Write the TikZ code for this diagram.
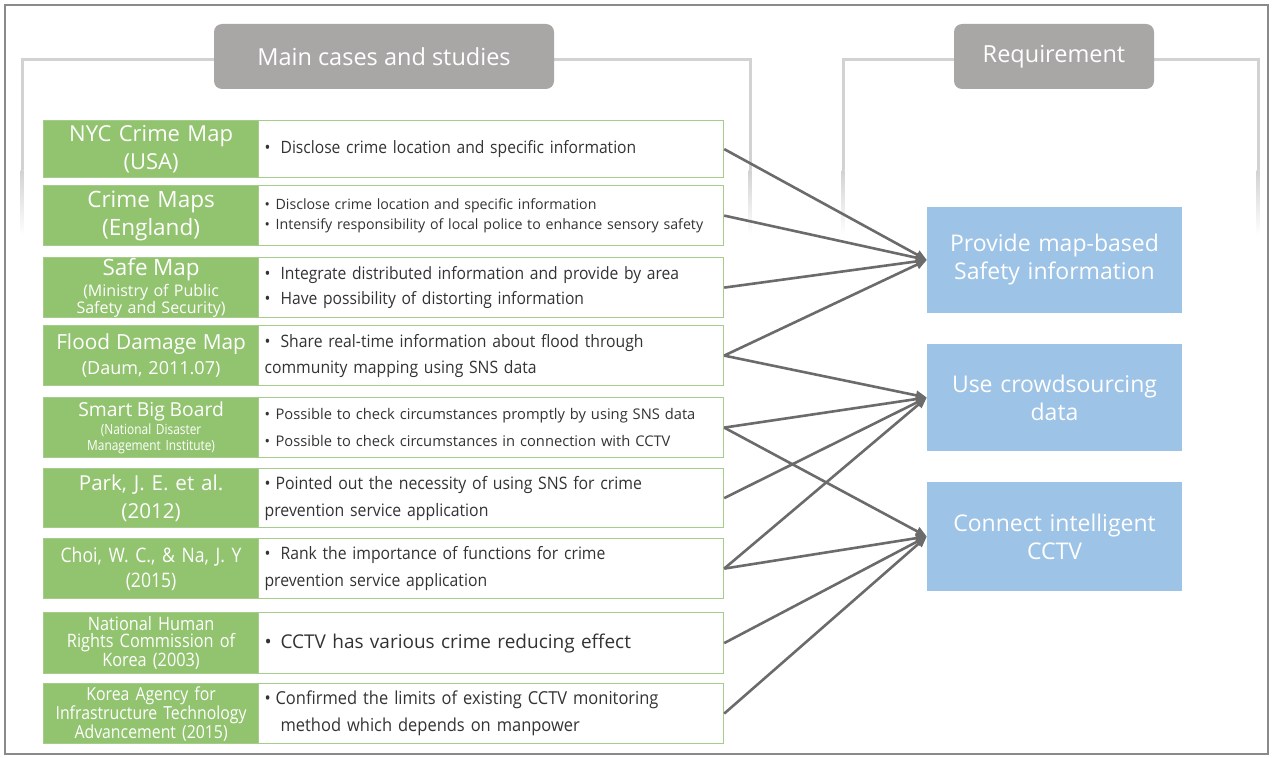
\documentclass[tikz,border=0pt]{standalone}
\usepackage{fontspec}
\setmainfont{Open Sans}
\newfontfamily\nar[FakeStretch=0.92]{Open Sans}
\newfontfamily\lbn[FakeStretch=0.88]{Open Sans}
\newfontfamily\cnd[FakeStretch=0.85]{Open Sans}
\usetikzlibrary{arrows.meta}
\definecolor{hdr}{HTML}{A9A6A6}
\definecolor{grn}{HTML}{92C36F}
\definecolor{grnb}{HTML}{A4CC8A}
\definecolor{blu}{HTML}{9DC3E6}
\definecolor{frm}{HTML}{D2D2D2}
\definecolor{conncol}{HTML}{6B6B6B}
\definecolor{txtcol}{HTML}{333333}
\definecolor{bordercol}{HTML}{8A8A8A}
\newcommand\bul{\makebox[16pt][l]{•}}
\newcommand\bulS{\makebox[11pt][l]{•}}
\newcommand\fs[2]{\fontsize{#1}{#2}\selectfont}
\begin{document}
\begin{tikzpicture}[x=1pt,y=-1pt,
  lab/.style={fill=grn, draw=grnb, line width=1.2pt, text width=209pt, inner xsep=3pt, inner ysep=0pt,
    align=center, text=white, anchor=north west},
  txt/.style={fill=white, draw=grnb, line width=1.2pt, text width=453pt, inner xsep=6pt, inner ysep=0pt,
    align=left, text=txtcol, anchor=north west},
  req/.style={fill=blu, text=white, text width=245pt, inner xsep=5pt, align=center, minimum height=107pt,
    font=\fs{23}{28}},
  hd/.style={fill=hdr, text=white, rounded corners=8pt, minimum height=65pt, font=\fs{23.5}{26}},
  frame/.style={draw=frm, line width=3pt},
  conn/.style={draw=conncol, line width=2.6pt, -{Triangle[length=11pt,width=9pt]}}
]
\useasboundingbox (0,0) rectangle (1273,757);
\draw[bordercol, line width=1.2pt] (5,5) rectangle (1268,754);

% section frames
\draw[frame] (22,170) -- (22,60) -- (750,60) -- (750,170);
\shade[top color=frm, bottom color=white] (20.5,170) rectangle (23.5,235);
\shade[top color=frm, bottom color=white] (748.5,170) rectangle (751.5,235);
\draw[frame] (843,170) -- (843,60) -- (1258,60) -- (1258,170);
\shade[top color=frm, bottom color=white] (841.5,170) rectangle (844.5,235);
\shade[top color=frm, bottom color=white] (1256.5,170) rectangle (1259.5,235);

\node[hd, minimum width=340pt] (h1) at (384,56.5) {Main cases and studies};
\node[hd, minimum width=200pt] (h2) at (1054,56.5) {Requirement};

% rows
\node[lab, minimum height=57pt, font=\fs{22}{28}] (l1) at (43,120) {NYC Crime Map\\(USA)};
\node[txt, minimum height=57pt, font=\nar\fs{17}{26}] (t1) at (258,120) {\bul Disclose crime location and specific information};

\node[lab, minimum height=60pt, font=\fs{22.5}{28}] (l2) at (43,185) {Crime Maps\\(England)};
\node[txt, minimum height=60pt, font=\fs{14.2}{20}] (t2) at (258,185) {\bulS Disclose crime location and specific information\\\bulS Intensify responsibility of local police to enhance sensory safety};

\node[lab, minimum height=60pt, font=\fs{16}{16.5}] (l3) at (43,257) {\fs{22.5}{16.5}Safe Map\\[3pt]\fs{16}{16.5}(Ministry of Public\\Safety and Security)};
\node[txt, minimum height=60pt, font=\nar\fs{17}{25}] (t3) at (258,257) {\bul Integrate distributed information and provide by area\\\bul Have possibility of distorting information};

\node[lab, minimum height=60pt, font=\fs{18}{25}] (l4) at (43,325) {\fs{20.8}{25}Flood Damage Map\\\fs{18}{25}(Daum, 2011.07)};
\node[txt, minimum height=60pt, font=\nar\fs{17.1}{26}] (t4) at (258,325) {\bul Share real-time information about flood through\\community mapping using SNS data};

\node[lab, minimum height=60pt, font=\cnd\fs{14}{15.5}] (l5) at (43,397) {\rmfamily\fs{19.3}{15.5}Smart Big Board\\[3pt]\cnd\fs{14}{15.5}(National Disaster\\Management Institute)};
\node[txt, minimum height=60pt, font=\fs{14.7}{27}] (t5) at (258,397) {\bulS Possible to check circumstances promptly by using SNS data\\\bulS Possible to check circumstances in connection with CCTV};

\node[lab, minimum height=59pt, font=\fs{20.6}{28}] (l6) at (43,468) {Park, J. E. et al.\\(2012)};
\node[txt, minimum height=59pt, font=\nar\fs{17.2}{27}] (t6) at (258,468) {\bulS Pointed out the necessity of using SNS for crime\\prevention service application};

\node[lab, minimum height=60pt, font=\lbn\fs{20}{25}] (l7) at (43,538) {Choi, W. C., \& Na, J. Y\\(2015)};
\node[txt, minimum height=60pt, font=\nar\fs{17.1}{27}] (t7) at (258,538) {\bul Rank the importance of functions for crime\\prevention service application};

\node[lab, minimum height=61pt, font=\lbn\fs{18.5}{17.5}] (l8) at (43,612) {National Human\\Rights Commission of\\Korea (2003)};
\node[txt, minimum height=61pt, font=\fs{19}{26}] (t8) at (258,612) {\bul CCTV has various crime reducing effect};

\node[lab, minimum height=60pt, font=\lbn\fs{18}{16.5}] (l9) at (43,683) {Korea Agency for\\Infrastructure Technology\\Advancement (2015)};
\node[txt, minimum height=60pt, font=\nar\fs{17.9}{27}] (t9) at (258,683) {\bulS Confirmed the limits of existing CCTV monitoring\\\hspace*{16pt}method which depends on manpower};

% requirements
\node[req, minimum height=106pt] (r1) at (1054.5,260) {Provide map-based\\Safety information};
\node[req, minimum height=107pt] (r2) at (1054.5,397.5) {Use crowdsourcing\\data};
\node[req, minimum height=109pt] (r3) at (1054.5,536.5) {Connect intelligent\\CCTV};

% connectors
\draw[conn] (t1.east) -- (r1.west);
\draw[conn] (t2.east) -- (r1.west);
\draw[conn] (t3.east) -- (r1.west);
\draw[conn] (t4.east) -- (r1.west);
\draw[conn] (t4.east) -- (r2.west);
\draw[conn] (t5.east) -- (r2.west);
\draw[conn] (t5.east) -- (r3.west);
\draw[conn] (t6.east) -- (r2.west);
\draw[conn] (t7.east) -- (r2.west);
\draw[conn] (t7.east) -- (r3.west);
\draw[conn] (t8.east) -- (r3.west);
\draw[conn] (t9.east) -- (r3.west);
\end{tikzpicture}
\end{document}
